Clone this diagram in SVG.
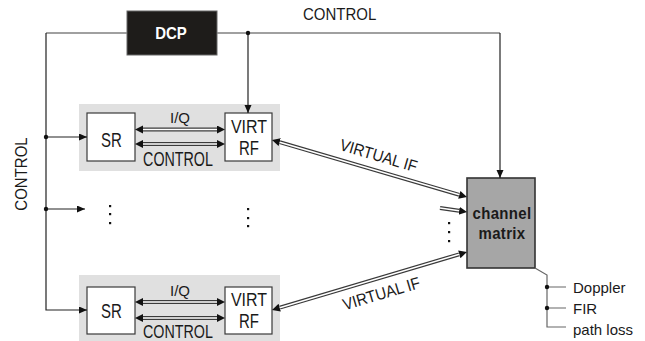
<svg xmlns="http://www.w3.org/2000/svg" width="645" height="341" viewBox="0 0 645 341">
<style>
.t{font-family:"Liberation Sans",Arial,sans-serif;fill:#1a1a1a;}
.b{font-weight:bold;}
.panel{fill:#e0e0e0;stroke:none;}
.box{fill:#ffffff;stroke:#3a3a3a;stroke-width:1.2;}
.ln{fill:none;stroke:#222;stroke-width:1.2;}
.lg{fill:none;stroke:#808080;stroke-width:1.4;}
.dbo{fill:none;stroke:#3a3a3a;stroke-width:4;}
.dbi{fill:none;stroke:#ffffff;stroke-width:1.6;}
.dot{fill:#111;}
</style>
<defs>
<marker id="ah" markerUnits="userSpaceOnUse" markerWidth="9" markerHeight="8" refX="8" refY="3.5" orient="auto">
<path d="M0,0 L8,3.5 L0,7 z" fill="#111"/>
</marker>
<marker id="dh" markerUnits="userSpaceOnUse" markerWidth="9" markerHeight="9" refX="0" refY="4" orient="auto-start-reverse">
<path d="M0,0 L8,4 L0,8 z" fill="#111"/>
</marker>
</defs>

<g id="dcp">
<rect x="127" y="11" width="90" height="44" fill="#1e1c1a" stroke="#666" stroke-width="1"/>
<text class="t b" transform="translate(171,39) scale(1,1.1)" text-anchor="middle" font-size="15" style="fill:#ffffff">DCP</text>
</g>

<g id="panel1">
<rect class="panel" x="79" y="104" width="201" height="67"/>
</g>
<g id="sr1">
<rect class="box" x="87" y="113" width="48" height="48"/>
<text class="t" transform="translate(111.5,147) scale(1,1.3)" text-anchor="middle" font-size="15">SR</text>
</g>
<g id="virtrf1">
<rect class="box" x="225" y="113" width="47" height="48"/>
<text class="t" transform="translate(249,133) scale(1,1.15)" text-anchor="middle" font-size="16">VIRT</text>
<text class="t" transform="translate(249,155) scale(1,1.35)" text-anchor="middle" font-size="15">RF</text>
</g>

<g id="panel2">
<rect class="panel" x="79" y="275" width="201" height="67"/>
</g>
<g id="sr2">
<rect class="box" x="87" y="287" width="48" height="47"/>
<text class="t" transform="translate(111.5,318) scale(1,1.3)" text-anchor="middle" font-size="15">SR</text>
</g>
<g id="virtrf2">
<rect class="box" x="225" y="287" width="47" height="47"/>
<text class="t" transform="translate(249,306) scale(1,1.15)" text-anchor="middle" font-size="16">VIRT</text>
<text class="t" transform="translate(249,328) scale(1,1.35)" text-anchor="middle" font-size="15">RF</text>
</g>

<g id="matrix">
<rect x="467" y="178" width="68" height="90" fill="#a6a6a6" stroke="#333" stroke-width="1.6"/>
<text class="t b" transform="translate(502,219) scale(1,1.15)" text-anchor="middle" font-size="15" letter-spacing="0.3">channel</text>
<text class="t b" transform="translate(502,239) scale(1,1.15)" text-anchor="middle" font-size="15" letter-spacing="0.3">matrix</text>
</g>

<g id="connectors">
<path class="lg" d="M46,33 H127"/>
<path class="lg" d="M217,33 H500"/>
<path class="ln" d="M500,33 V178" marker-end="url(#ah)"/>
<path class="ln" d="M248,33 V113" marker-end="url(#ah)"/>
<circle class="dot" cx="248" cy="33" r="2.2"/>
<path class="ln" d="M46,33 V310 H87" marker-end="url(#ah)"/>
<path class="ln" d="M46,137 H87" marker-end="url(#ah)"/>
<path class="ln" d="M46,209 H85" marker-end="url(#ah)"/>
<circle class="dot" cx="46" cy="137" r="2.2"/>
<circle class="dot" cx="46" cy="209" r="2.2"/>

<path class="dbo" d="M143,129.5 H217" marker-start="url(#dh)" marker-end="url(#dh)"/>
<path class="dbi" d="M143,129.5 H217"/>
<path class="dbo" d="M143,144 H217" marker-start="url(#dh)" marker-end="url(#dh)"/>
<path class="dbi" d="M143,144 H217"/>
<path class="dbo" d="M143,302 H217" marker-start="url(#dh)" marker-end="url(#dh)"/>
<path class="dbi" d="M143,302 H217"/>
<path class="dbo" d="M143,318 H217" marker-start="url(#dh)" marker-end="url(#dh)"/>
<path class="dbi" d="M143,318 H217"/>

<path class="dbo" d="M279.7,142.2 L459.3,194.8" marker-start="url(#dh)" marker-end="url(#dh)"/>
<path class="dbi" d="M279.7,142.2 L459.3,194.8"/>
<path class="dbo" d="M279.7,307.7 L459.3,254.3" marker-start="url(#dh)" marker-end="url(#dh)"/>
<path class="dbi" d="M279.7,307.7 L459.3,254.3"/>
<path class="dbo" d="M440,208 L459.1,210.8" marker-end="url(#dh)"/>
<path class="dbi" d="M440,208 L459.1,210.8"/>

<path fill="none" stroke="#666" stroke-width="1.2" d="M535,268 L547,275 V327 H566 M547,287 H566 M547,308 H566"/>
<circle class="dot" cx="547" cy="287" r="2.2"/>
<circle class="dot" cx="547" cy="308" r="2.2"/>
</g>

<g id="ellipses" class="dot">
<rect x="109" y="205" width="2.2" height="2.2"/>
<rect x="109" y="213" width="2.2" height="2.2"/>
<rect x="109" y="222" width="2.2" height="2.2"/>
<rect x="247" y="208" width="2.2" height="2.2"/>
<rect x="247" y="217" width="2.2" height="2.2"/>
<rect x="247" y="225" width="2.2" height="2.2"/>
<rect x="448" y="222" width="2.2" height="2.2"/>
<rect x="448" y="231" width="2.2" height="2.2"/>
<rect x="448" y="240" width="2.2" height="2.2"/>
</g>

<g id="labels">
<text class="t" transform="translate(303,20) scale(1,1.12)" font-size="15">CONTROL</text>
<text class="t" transform="translate(27,174) rotate(-90) scale(1,1.12)" text-anchor="middle" font-size="15">CONTROL</text>
<text class="t" transform="translate(180,123)" text-anchor="middle" font-size="15">I/Q</text>
<text class="t" transform="translate(178,166) scale(1,1.4)" text-anchor="middle" font-size="14.3">CONTROL</text>
<text class="t" transform="translate(180,296)" text-anchor="middle" font-size="15">I/Q</text>
<text class="t" transform="translate(178,338) scale(1,1.3)" text-anchor="middle" font-size="14.3">CONTROL</text>
<text class="t" transform="translate(377,161) rotate(16.3) scale(1,1.1)" text-anchor="middle" font-size="15">VIRTUAL IF</text>
<text class="t" transform="translate(383,299) rotate(-16.6) scale(1,1.1)" text-anchor="middle" font-size="15">VIRTUAL IF</text>
<text class="t" x="573" y="293" font-size="15">Doppler</text>
<text class="t" x="573" y="314" font-size="15">FIR</text>
<text class="t" x="573" y="335" font-size="15">path loss</text>
</g>
</svg>
